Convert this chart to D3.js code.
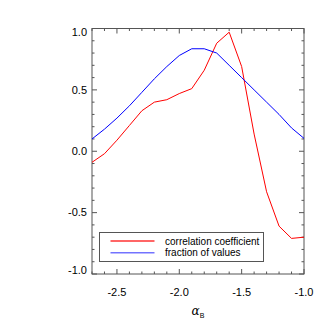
<!DOCTYPE html>
<html>
<head>
<meta charset="utf-8">
<script src="https://cdn.jsdelivr.net/npm/d3@7"></script>
<style>
  html, body { margin: 0; padding: 0; background: #fff; }
  svg { display: block; font-family: "Liberation Sans", Arial, Helvetica, sans-serif; }
</style>
</head>
<body>
<div id="chart"></div>
<script>
// alpha_B grid (steps of 0.1)
const alphaB = [-2.7, -2.6, -2.5, -2.4, -2.3, -2.2, -2.1, -2.0, -1.9, -1.8,
  -1.7, -1.6, -1.5, -1.4, -1.3, -1.2, -1.1, -1.0];
const corrCoef = [-0.09, -0.02, 0.09, 0.21, 0.33, 0.40, 0.42, 0.47, 0.51, 0.66,
  0.88, 0.97, 0.69, 0.14, -0.33, -0.61, -0.71, -0.70];
const fracValues = [0.10, 0.18, 0.27, 0.37, 0.48, 0.59, 0.69, 0.78, 0.835, 0.835,
  0.80, 0.70, 0.60, 0.50, 0.40, 0.30, 0.19, 0.105];
const xTicks = [-2.5, -2.0, -1.5, -1.0];
const yTicks = [-1.0, -0.5, 0.0, 0.5, 1.0];
const series = [
  { name: 'correlation coefficient', values: corrCoef, color: '#ff0000' },
  { name: 'fraction of values', values: fracValues, color: '#0000ff' }
];

const width = 332, height = 332;
const margin = { left: 92, right: 28, top: 28.5, bottom: 58 };
const axisColor = '#555';

// plain hyphen-minus like the original plot
const fmt = v => d3.format('.1f')(v).replace('\u2212', '-');

const svg = d3.select('#chart').append('svg')
  .attr('width', width).attr('height', height);

const x = d3.scaleLinear().domain([-2.7, -1.0]).range([margin.left, width - margin.right]);
const y = d3.scaleLinear().domain([-1, 1]).range([height - margin.bottom, margin.top]);

const x0 = x.range()[0], x1 = x.range()[1];
const y0 = y.range()[0], y1 = y.range()[1];

// frame
svg.append('rect')
  .attr('x', x0).attr('y', y1)
  .attr('width', x1 - x0).attr('height', y0 - y1)
  .attr('fill', 'none').attr('stroke', axisColor).attr('stroke-width', 1);

// ticks (inward on all four sides), IDL style
const majorLen = 5, minorLen = 2.5;
const xMinor = d3.range(-2.7, -0.999, 0.1).map(v => +v.toFixed(2));
const yMinor = d3.range(-1.0, 1.001, 0.1).map(v => +v.toFixed(2));
const isMajor = (v, list) => list.some(t => Math.abs(t - v) < 1e-6);

const tickG = svg.append('g').attr('stroke', axisColor).attr('stroke-width', 1);
xMinor.forEach(v => {
  const len = isMajor(v, xTicks) ? majorLen : minorLen;
  tickG.append('line').attr('x1', x(v)).attr('x2', x(v)).attr('y1', y0).attr('y2', y0 - len);
  tickG.append('line').attr('x1', x(v)).attr('x2', x(v)).attr('y1', y1).attr('y2', y1 + len);
});
yMinor.forEach(v => {
  const len = isMajor(v, yTicks) ? majorLen : minorLen;
  tickG.append('line').attr('y1', y(v)).attr('y2', y(v)).attr('x1', x0).attr('x2', x0 + len);
  tickG.append('line').attr('y1', y(v)).attr('y2', y(v)).attr('x1', x1).attr('x2', x1 - len);
});

// tick labels
svg.append('g').selectAll('text').data(xTicks).join('text')
  .attr('x', d => x(d))
  .attr('y', y0 + 22)
  .attr('text-anchor', 'middle')
  .attr('font-size', 11)
  .attr('fill', '#000')
  .text(fmt);

svg.append('g').selectAll('text').data(yTicks).join('text')
  .attr('x', x0 - 5)
  .attr('y', d => y(d) + (d === 1 ? 4 : d === -1 ? -4 : 0))
  .attr('dy', '0.35em')
  .attr('text-anchor', 'end')
  .attr('font-size', 11)
  .attr('fill', '#000')
  .text(fmt);

// x axis title: alpha_B
const xt = svg.append('text')
  .attr('x', x(-1.85))
  .attr('y', y0 + 41)
  .attr('text-anchor', 'middle')
  .attr('fill', '#000');
xt.append('tspan').attr('font-family', '"DejaVu Serif", serif').attr('font-style', 'italic')
  .attr('font-size', 12).text('α');
xt.append('tspan').attr('font-size', 7).attr('dy', 3).text('B');

// curves
const line = d3.line()
  .x((d, i) => x(alphaB[i]))
  .y(d => y(d));

svg.append('g').selectAll('path').data(series).join('path')
  .attr('d', d => line(d.values))
  .attr('fill', 'none')
  .attr('stroke', d => d.color)
  .attr('stroke-width', 1);

// legend
const lg = svg.append('g');
lg.append('rect')
  .attr('x', 99.5).attr('y', 232.5)
  .attr('width', 164).attr('height', 29)
  .attr('fill', '#fff').attr('stroke', axisColor).attr('stroke-width', 1);
series.forEach((s, i) => {
  const ly = 241 + i * 11.7;
  lg.append('line')
    .attr('x1', 110.5).attr('x2', 154.5)
    .attr('y1', ly).attr('y2', ly)
    .attr('stroke', s.color).attr('stroke-width', 1.5).attr('stroke-opacity', i ? 0.55 : 0.8);
  lg.append('text')
    .attr('x', 165).attr('y', ly)
    .attr('dy', '0.35em')
    .attr('font-size', 10)
    .attr('fill', '#000')
    .text(s.name);
});
</script>
</body>
</html>
